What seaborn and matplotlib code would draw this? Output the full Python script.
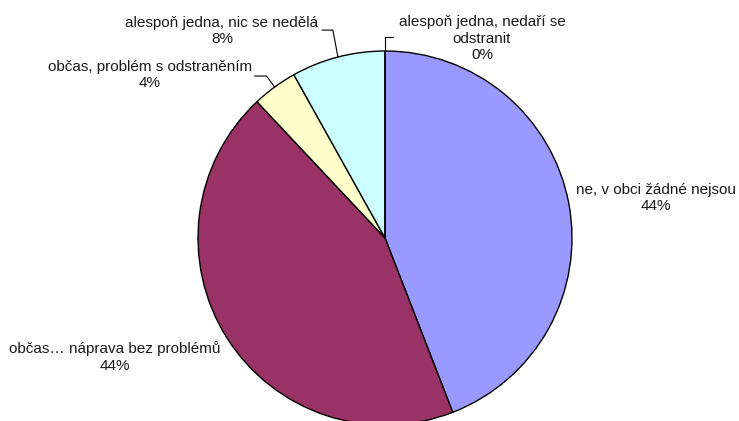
import numpy as np
import seaborn as sns
import matplotlib.pyplot as plt

# slices, clockwise from 12 o'clock
labels = [
    "ne, v obci žádné nejsou",
    "občas… náprava bez problémů",
    "občas, problém s odstraněním",
    "alespoň jedna, nic se nedělá",
    "alespoň jedna, nedaří se\nodstranit",
]
values = [44.1, 43.9, 3.9, 8.1, 0.0]
colors = ["#9999FF", "#993366", "#FFFFCC", "#CCFFFF", "#FFFFFF"]

sns.set_theme(style="white")
plt.rcParams["font.family"] = ["Liberation Sans", "DejaVu Sans"]

fig = plt.figure(figsize=(7.39, 4.21), dpi=100)
ax = fig.add_axes([0, 0, 1, 1])

wedges, _ = ax.pie(
    values,
    colors=colors,
    startangle=90,
    counterclock=False,
    radius=1.0,
    wedgeprops={"edgecolor": "black", "linewidth": 1.0},
)

# label centres in data units (pie radius = 1)
label_pos = [(1.449, 0.214), (-1.444, -0.636), (-1.257, 0.872), (-0.872, 1.107), (0.519, 1.065)]
for lab, val, (x, y) in zip(labels, values, label_pos):
    ax.text(x, y, f"{lab}\n{round(val):.0f}%", ha="center", va="center",
            fontsize=11, color="#1a1a1a", linespacing=1.22)

# leader lines for the small slices
def edge_point(w):
    mid = np.deg2rad((w.theta1 + w.theta2) / 2)
    return np.cos(mid), np.sin(mid)

x0, y0 = edge_point(wedges[2])
ax.plot([x0, x0 - 0.043, x0 - 0.107], [y0, y0 + 0.059, y0 + 0.059], color="black", lw=0.8)
x0, y0 = edge_point(wedges[3])
ax.plot([x0, x0 - 0.027, x0 - 0.085], [y0, y0 + 0.144, y0 + 0.144], color="black", lw=0.8)
x0, y0 = edge_point(wedges[4])
ax.plot([x0, x0, x0 + 0.043], [y0, y0 + 0.075, y0 + 0.075], color="black", lw=0.8)

ax.set_xlim(-385 / 187, (739 - 385) / 187)
ax.set_ylim(-183 / 187, 238 / 187)
ax.set_aspect("auto")
ax.axis("off")

fig.savefig("out.png", dpi=100)
